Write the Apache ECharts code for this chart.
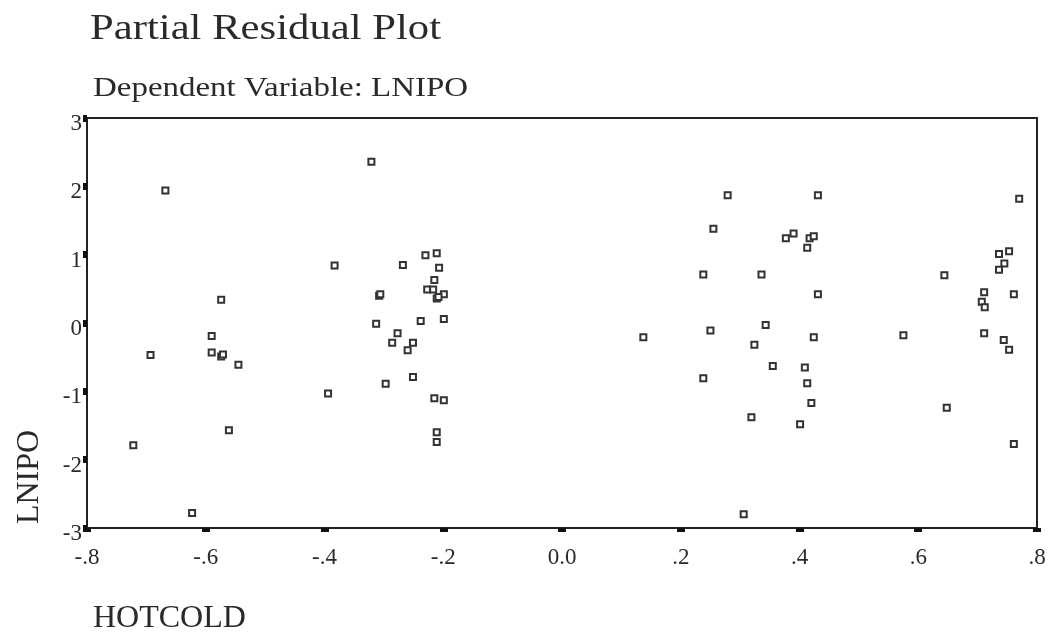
<!DOCTYPE html>
<html>
<head>
<meta charset="utf-8">
<script src="https://cdn.jsdelivr.net/npm/echarts@6/dist/echarts.min.js"></script>
<style>html,body{margin:0;padding:0;background:#fff;}#c{width:1056px;height:639px;}</style>
</head>
<body>
<div id="c"></div>
<script>
// HOTCOLD values (x) and LNIPO partial residuals (y)
var hotcold = [
  -0.668, -0.574, -0.590, -0.693, -0.590, -0.574, -0.571, -0.545, -0.561, -0.722, -0.623,
  -0.321, -0.383, -0.268, -0.230, -0.211, -0.207, -0.215, -0.227, -0.217, -0.199, -0.211,
  -0.208, -0.308, -0.306, -0.313, -0.238, -0.199, -0.277, -0.286, -0.251, -0.260, -0.251,
  -0.297, -0.394, -0.215, -0.199, -0.211, -0.211,
  0.137, 0.279, 0.431, 0.255, 0.377, 0.390, 0.417, 0.424, 0.413, 0.238, 0.336, 0.431,
  0.343, 0.250, 0.424, 0.324, 0.355, 0.409, 0.413, 0.238, 0.420, 0.319, 0.401, 0.306,
  0.770, 0.736, 0.753, 0.745, 0.736, 0.644, 0.711, 0.761, 0.707, 0.712, 0.575, 0.711,
  0.744, 0.753, 0.648, 0.761
];
var lnipo = [
  1.94, 0.34, -0.19, -0.47, -0.43, -0.49, -0.46, -0.61, -1.57, -1.79, -2.78,
  2.36, 0.84, 0.85, 0.99, 1.02, 0.81, 0.63, 0.49, 0.49, 0.42, 0.36,
  0.38, 0.40, 0.42, -0.01, 0.03, 0.06, -0.15, -0.29, -0.29, -0.40, -0.79,
  -0.89, -1.03, -1.10, -1.13, -1.60, -1.74,
  -0.21, 1.87, 1.87, 1.38, 1.24, 1.31, 1.24, 1.27, 1.10, 0.71, 0.71, 0.42,
  -0.03, -0.11, -0.21, -0.32, -0.63, -0.65, -0.88, -0.81, -1.17, -1.38, -1.48, -2.80,
  1.82, 1.01, 1.05, 0.87, 0.78, 0.70, 0.45, 0.42, 0.31, 0.23, -0.18, -0.15,
  -0.25, -0.39, -1.24, -1.77
];
var titleText = 'Partial Residual Plot';
var subtitleText = 'Dependent Variable: LNIPO';
var xName = 'HOTCOLD';
var yName = 'LNIPO';

var pts = hotcold.map(function (x, i) { return [x, lnipo[i]]; });
var serif = '"Liberation Serif", "DejaVu Serif", serif';
var txt = '#2a2a2a';

var chart = echarts.init(document.getElementById('c'));
chart.setOption({
  animation: false,
  backgroundColor: '#fff',
  grid: { left: 87, right: 19, top: 118, bottom: 111, show: true, borderColor: '#222', borderWidth: 2, containLabel: false },
  xAxis: {
    type: 'value', min: -0.8, max: 0.8, interval: 0.2,
    axisLine: { show: true, onZero: false, lineStyle: { color: '#222', width: 2 } },
    axisTick: { show: true, inside: false, length: 4, lineStyle: { color: '#111', width: 8 } },
    splitLine: { show: false },
    axisLabel: {
      margin: 18, fontFamily: serif, fontSize: 23, color: txt,
      formatter: function (v) {
        var r = Math.round(v * 10) / 10;
        if (r === 0) return '0.0';
        var s = Math.abs(r).toFixed(1).replace(/^0/, '');
        return (r < 0 ? '-' : '') + s;
      }
    }
  },
  yAxis: {
    type: 'value', min: -3, max: 3, interval: 1,
    axisLine: { show: true, onZero: false, lineStyle: { color: '#222', width: 2 } },
    axisTick: { show: true, inside: false, length: 4, lineStyle: { color: '#111', width: 7 } },
    splitLine: { show: false },
    axisLabel: { margin: 5, fontFamily: serif, fontSize: 23, color: txt, verticalAlign: 'top', lineHeight: 12 }
  },
  series: [{
    type: 'scatter',
    data: pts,
    symbol: 'rect',
    symbolSize: 6,
    itemStyle: { color: '#fff', borderColor: '#333', borderWidth: 2, opacity: 1 }
  }],
  graphic: [
    { type: 'text', x: 90, y: 30, scaleX: 1.22, style: { text: titleText, x: 0, y: 0, font: '35px ' + serif, fill: txt, textAlign: 'left', textVerticalAlign: 'middle' } },
    { type: 'text', x: 93, y: 89, scaleX: 1.22, style: { text: subtitleText, x: 0, y: 0, font: '27px ' + serif, fill: txt, textAlign: 'left', textVerticalAlign: 'middle' } },
    { type: 'text', x: 93, y: 619, style: { text: xName, x: 0, y: 0, font: '32px ' + serif, fill: txt, textAlign: 'left', textVerticalAlign: 'middle' } },
    { type: 'text', x: 30, y: 477, rotation: Math.PI / 2, style: { text: yName, x: 0, y: 0, font: '32px ' + serif, fill: txt, textAlign: 'center', textVerticalAlign: 'middle' } }
  ]
});
</script>
</body>
</html>
